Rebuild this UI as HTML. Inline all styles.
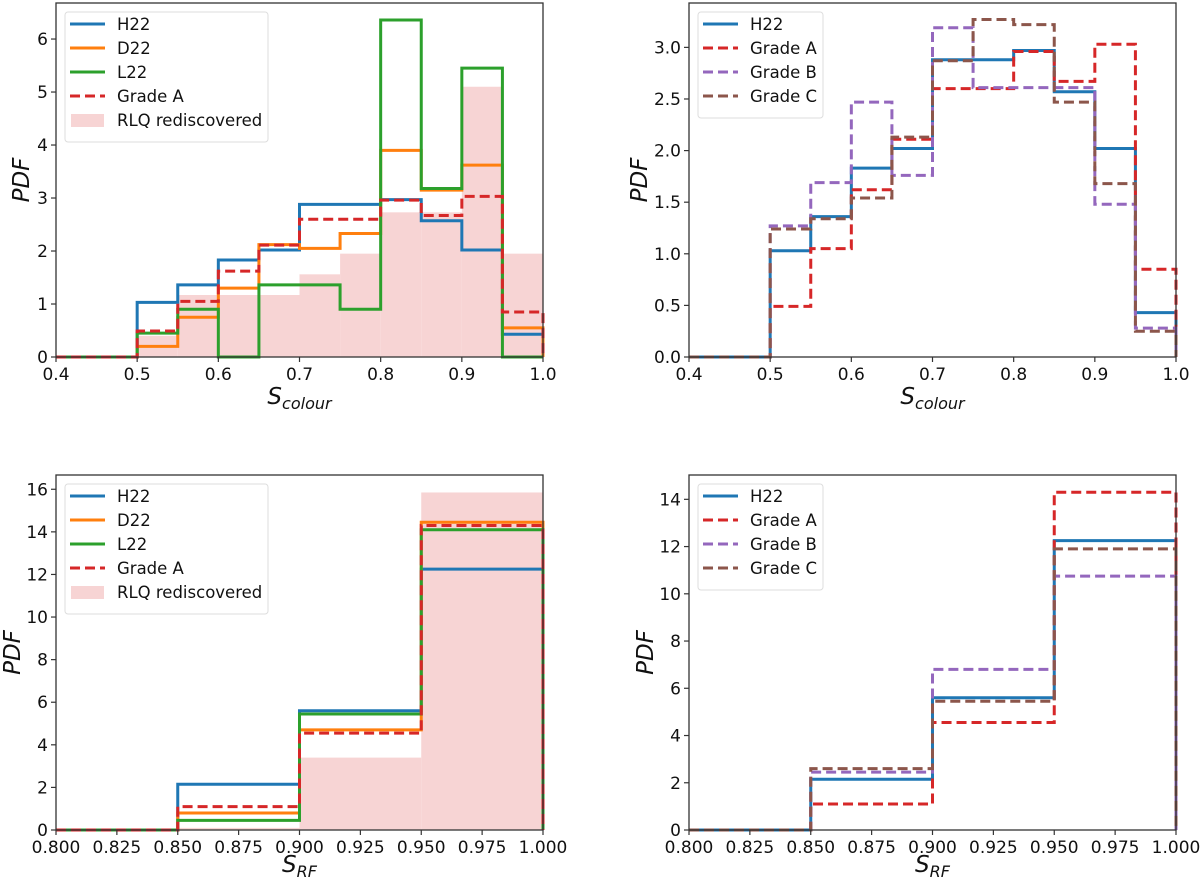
<!DOCTYPE html>
<html><head><meta charset="utf-8"><style>
body{margin:0;background:#fff;}
svg{display:block;font-family:"DejaVu Sans","Liberation Sans",sans-serif;}
</style></head><body>
<svg id="fig" width="1200" height="881" viewBox="0 0 1200 881" xmlns="http://www.w3.org/2000/svg"></svg>
<script>
const edgesColour = [0.4,0.45,0.5,0.55,0.6,0.65,0.7,0.75,0.8,0.85,0.9,0.95,1.0];
const edgesRF = [0.8,0.85,0.9,0.95,1.0];
const colH22 = [0,0,1.03,1.36,1.83,2.02,2.88,2.88,2.97,2.57,2.02,0.43];
const colD22 = [0,0,0.2,0.75,1.3,2.12,2.05,2.33,3.9,3.15,3.62,0.55];
const colL22 = [0,0,0.45,0.9,0,1.36,1.36,0.9,6.36,3.18,5.45,0];
const colA = [0,0,0.49,1.05,1.62,2.11,2.6,2.6,2.96,2.67,3.03,0.85];
const colB = [0,0,1.27,1.69,2.47,1.76,3.19,2.61,2.61,2.61,1.48,0.28];
const colC = [0,0,1.24,1.34,1.54,2.13,2.87,3.27,3.22,2.47,1.68,0.25];
const colRLQ = [0,0,0.4,1.17,1.17,1.17,1.56,1.95,2.73,2.73,5.1,1.95];
const rfH22 = [0,2.15,5.6,12.25];
const rfD22 = [0,0.8,4.7,14.45];
const rfL22 = [0,0.45,5.45,14.1];
const rfA = [0,1.1,4.55,14.3];
const rfB = [0,2.45,6.8,10.75];
const rfC = [0,2.6,5.45,11.9];
const rfRLQ = [0,0.1,3.4,15.85];
const ticksColX = [0.4,0.5,0.6,0.7,0.8,0.9,1.0];
const ticksRFX = [0.8,0.825,0.85,0.875,0.9,0.925,0.95,0.975,1.0];
const ticksTL = [0,1,2,3,4,5,6];
const ticksTR = [0,0.5,1,1.5,2,2.5,3];
const ticksBL = [0,2,4,6,8,10,12,14,16];
const ticksBR = [0,2,4,6,8,10,12,14];

const C = {H22:'#1f77b4',D22:'#ff7f0e',L22:'#2ca02c',A:'#d62728',B:'#9467bd',C:'#8c564b',fill:'#f7d4d4'};
const NS='http://www.w3.org/2000/svg';
const fig=document.getElementById('fig');
function mk(tag,attrs,parent){const e=document.createElementNS(NS,tag);for(const k in attrs)e.setAttribute(k,attrs[k]);(parent||fig).appendChild(e);return e;}

function panel(p){
  const g=mk('g',{});
  
  
  const sx=v=>p.x0+(v-p.xmin)/(p.xmax-p.xmin)*(p.x1-p.x0);
  const sy=v=>p.yb-(v/p.ymax)*(p.yb-p.yt);
  if(p.fill){p.fill.forEach((v,i)=>{if(v<=0)return;
    const r=mk('rect',{x:sx(p.edges[i]),y:sy(v),width:sx(p.edges[i+1])-sx(p.edges[i]),height:sy(0)-sy(v),fill:C.fill},g);
    
    
  });}
  p.series.forEach(s=>{
    let d='M'+sx(p.edges[0])+','+sy(0);
    s.vals.forEach((v,i)=>{d+=' L'+sx(p.edges[i])+','+sy(v)+' L'+sx(p.edges[i+1])+','+sy(v);});
    d+=' L'+sx(p.edges[p.edges.length-1])+','+sy(0);
    const a={d:d,fill:'none',stroke:C[s.c],'stroke-width':3,'stroke-linejoin':'miter'};
    if(s.dash)a['stroke-dasharray']='10,5';
    const path=mk('path',a,g);
    
    
  });
  const frame=mk('rect',{x:p.x0,y:p.yt,width:p.x1-p.x0,height:p.yb-p.yt,fill:'none',stroke:'#333','stroke-width':1.3},g);
  
  
  p.xt.forEach(t=>{const x=sx(t);
    mk('line',{x1:x,x2:x,y1:p.yb,y2:p.yb+5,stroke:'#333','stroke-width':1.2},g);
    const tx=mk('text',{x:x,y:p.yb+23,'text-anchor':'middle','font-size':17,fill:'#111'},g);
    tx.textContent=t.toFixed(p.xdec);
    
    
  });
  p.yticks.forEach(t=>{const y=sy(t);
    mk('line',{x1:p.x0-5,x2:p.x0,y1:y,y2:y,stroke:'#333','stroke-width':1.2},g);
    const tx=mk('text',{x:p.x0-8,y:y+6,'text-anchor':'end','font-size':17,fill:'#111'},g);
    tx.textContent=t.toFixed(p.ydec);
    
    
  });
  const yl=mk('text',{x:0,y:0,transform:'translate('+(p.ylx)+','+((p.yt+p.yb)/2)+') rotate(-90)','text-anchor':'middle','font-size':23,'font-style':'italic',fill:'#111'},g);
  yl.textContent='PDF';
  
  
  const xl=mk('text',{x:(p.x0+p.x1)/2,y:p.yb+p.xly,'text-anchor':'middle','font-size':23,'font-style':'italic',fill:'#111'},g);
  xl.innerHTML='S<tspan font-size="16" dy="5">'+p.sub+'</tspan>';
  
  
  const L=p.leg;
  const n=p.series.length+(p.fill?1:0);
  const lg=mk('rect',{x:L.x,y:L.y,width:L.w,height:n*24+10,rx:3,fill:'#fff','fill-opacity':0.8,stroke:'#ddd','stroke-width':1},g);
  
  
  p.series.forEach((s,i)=>{const y=L.y+12+i*24;
    const a={x1:L.x+5,x2:L.x+40,y1:y,y2:y,stroke:C[s.c],'stroke-width':3};
    if(s.dash)a['stroke-dasharray']='10,5';
    mk('line',a,g);
    const t=mk('text',{x:L.x+52,y:y+6,'font-size':16.5,fill:'#111'},g);t.textContent=s.label;
    
    
  });
  if(p.fill){const y=L.y+12+p.series.length*24;
    mk('rect',{x:L.x+6,y:y-6,width:33,height:13,fill:C.fill},g);
    const t=mk('text',{x:L.x+52,y:y+6,'font-size':16.5,fill:'#111'},g);t.textContent='RLQ rediscovered';
    
    
  }
}

panel({name:'panel-top-left',x0:56,x1:543,yt:3,yb:357,xmin:0.4,xmax:1.0,ymax:6.68,edges:edgesColour,fill:colRLQ,
  series:[{label:'H22',c:'H22',vals:colH22},{label:'D22',c:'D22',vals:colD22},{label:'L22',c:'L22',vals:colL22},{label:'Grade A',c:'A',vals:colA,dash:1}],
  xt:ticksColX,xdec:1,yticks:ticksTL,ydec:0,ylx:29,xly:47,sub:'colour',leg:{x:65,y:12,w:203}});
panel({name:'panel-top-right',x0:689,x1:1176,yt:3,yb:357,xmin:0.4,xmax:1.0,ymax:3.43,edges:edgesColour,
  series:[{label:'H22',c:'H22',vals:colH22},{label:'Grade A',c:'A',vals:colA,dash:1},{label:'Grade B',c:'B',vals:colB,dash:1},{label:'Grade C',c:'C',vals:colC,dash:1}],
  xt:ticksColX,xdec:1,yticks:ticksTR,ydec:1,ylx:647,xly:47,sub:'colour',leg:{x:698,y:12,w:125}});
panel({name:'panel-bottom-left',x0:56,x1:543,yt:475,yb:830,xmin:0.8,xmax:1.0,ymax:16.67,edges:edgesRF,fill:rfRLQ,
  series:[{label:'H22',c:'H22',vals:rfH22},{label:'D22',c:'D22',vals:rfD22},{label:'L22',c:'L22',vals:rfL22},{label:'Grade A',c:'A',vals:rfA,dash:1}],
  xt:ticksRFX,xdec:3,yticks:ticksBL,ydec:0,ylx:20,xly:42,sub:'RF',leg:{x:65,y:484,w:203}});
panel({name:'panel-bottom-right',x0:689,x1:1176,yt:475,yb:830,xmin:0.8,xmax:1.0,ymax:15.03,edges:edgesRF,
  series:[{label:'H22',c:'H22',vals:rfH22},{label:'Grade A',c:'A',vals:rfA,dash:1},{label:'Grade B',c:'B',vals:rfB,dash:1},{label:'Grade C',c:'C',vals:rfC,dash:1}],
  xt:ticksRFX,xdec:3,yticks:ticksBR,ydec:0,ylx:653,xly:42,sub:'RF',leg:{x:698,y:484,w:125}});
</script>
</body></html>
